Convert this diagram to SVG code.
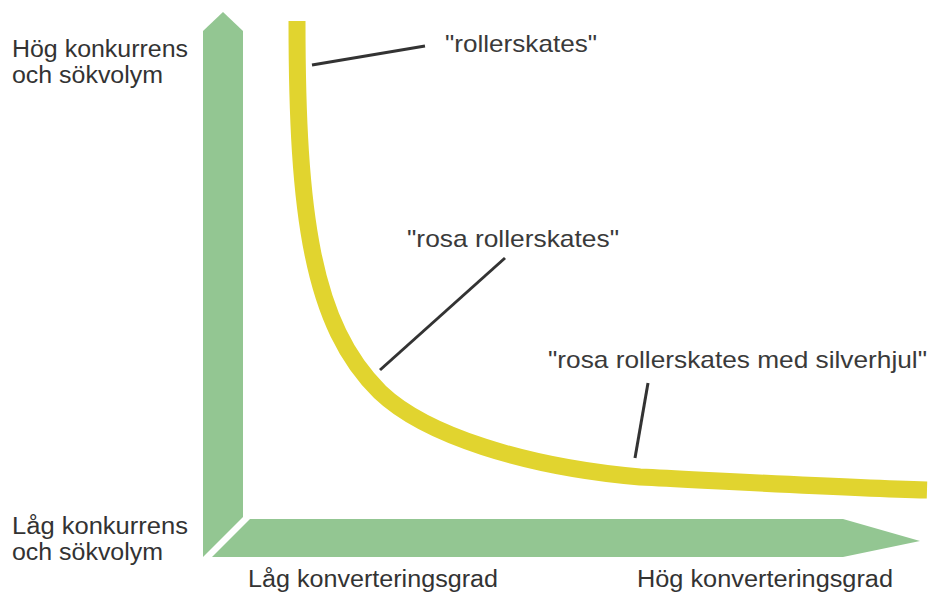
<svg xmlns="http://www.w3.org/2000/svg" width="929" height="594" viewBox="0 0 929 594">
<style>
.axis{fill:#93c692;}
.curve{fill:none;stroke:#e1d42f;stroke-width:17;}
.lead{stroke:#333;stroke-width:3;fill:none;}
.al{font-family:"Liberation Sans",Arial,sans-serif;font-size:23px;fill:#333;}
.ql{font-family:"Liberation Sans",Arial,sans-serif;font-size:24px;fill:#3a3a3a;}
</style>
<rect width="929" height="594" fill="#fff"/>
<g id="y-axis"><polygon class="axis" points="203,31 223,12 243,31 243,517 203,557"/></g>
<g id="x-axis"><polygon class="axis" points="250,519 843,519 920,541 843,557 212,557"/></g>
<g id="curve"><path class="curve" d="M297,21 C297,215 312,325 380,392 C425,435 525,467 640,477 C760,483 850,488 927,490"/></g>
<g id="connectors">
<line class="lead" x1="312" y1="65" x2="425" y2="46"/>
<line class="lead" x1="380" y1="370" x2="505" y2="258"/>
<line class="lead" x1="648" y1="383" x2="635" y2="458"/>
</g>
<g id="label-high-comp">
<text class="al" x="12" y="57" textLength="176" lengthAdjust="spacingAndGlyphs">Hög konkurrens</text>
<text class="al" x="12" y="83" textLength="151" lengthAdjust="spacingAndGlyphs">och sökvolym</text>
</g>
<g id="label-low-comp">
<text class="al" x="12" y="534" textLength="176" lengthAdjust="spacingAndGlyphs">Låg konkurrens</text>
<text class="al" x="12" y="560" textLength="151" lengthAdjust="spacingAndGlyphs">och sökvolym</text>
</g>
<g id="label-low-conv"><text class="al" x="248" y="587" textLength="250" lengthAdjust="spacingAndGlyphs">Låg konverteringsgrad</text></g>
<g id="label-high-conv"><text class="al" x="637" y="587" textLength="256" lengthAdjust="spacingAndGlyphs">Hög konverteringsgrad</text></g>
<g id="q1"><text class="ql" x="445" y="52" textLength="152" lengthAdjust="spacingAndGlyphs">"rollerskates"</text></g>
<g id="q2"><text class="ql" x="407" y="247" textLength="212" lengthAdjust="spacingAndGlyphs">"rosa rollerskates"</text></g>
<g id="q3"><text class="ql" x="548" y="368" textLength="379" lengthAdjust="spacingAndGlyphs">"rosa rollerskates med silverhjul"</text></g>
</svg>
